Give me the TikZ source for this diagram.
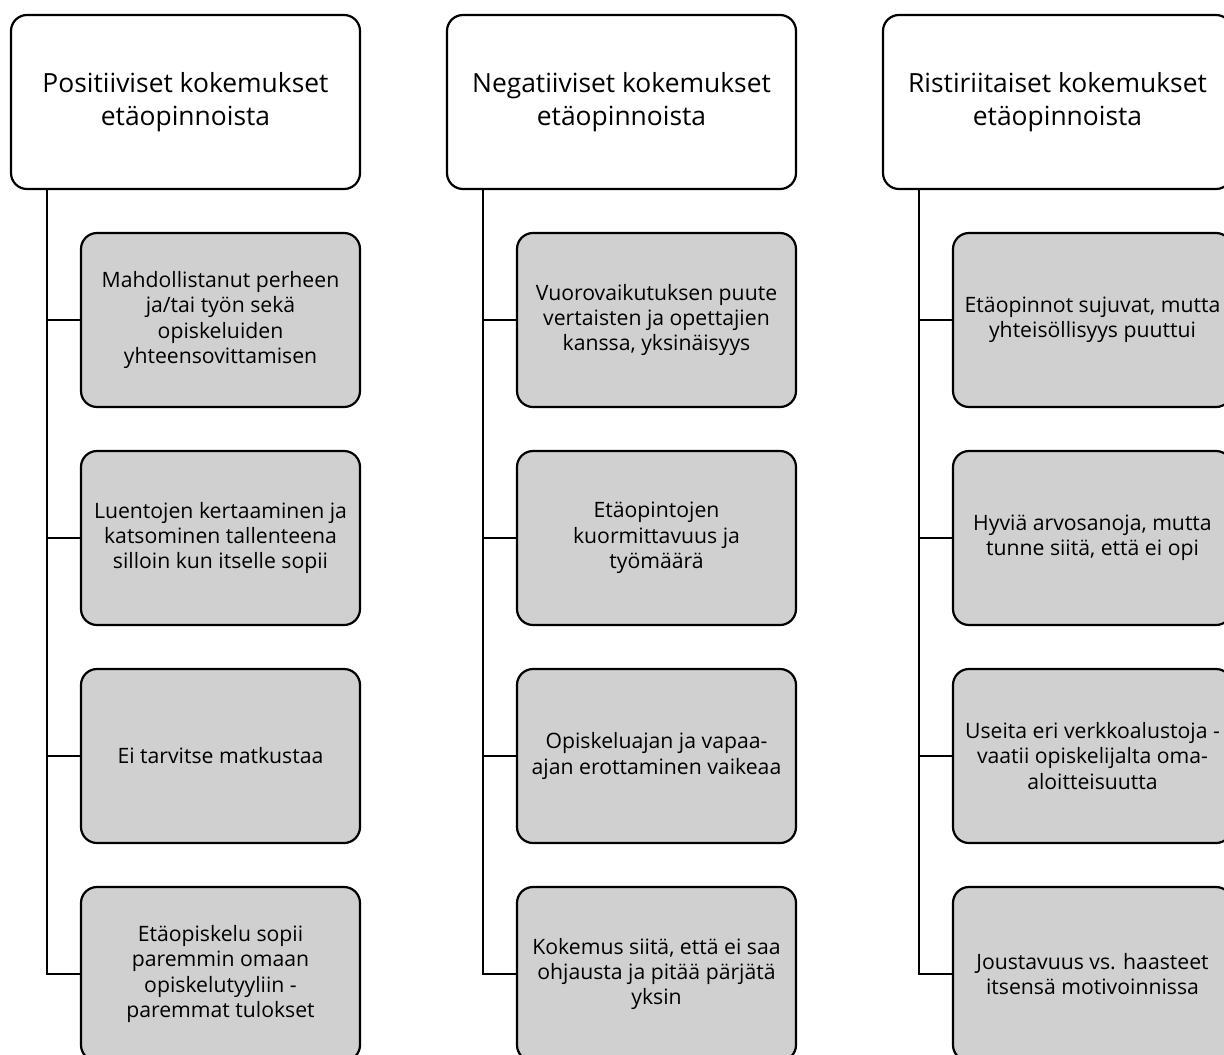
\documentclass[tikz,border=0pt]{standalone}
\usepackage{fontspec}
\setmainfont{Open Sans}
\usetikzlibrary{positioning}
\definecolor{itemgray}{RGB}{208,208,208}
\begin{document}
\begin{tikzpicture}[x=1pt,y=-1pt,inner sep=2pt,outer sep=0pt,node distance=44pt]
  \useasboundingbox(0,0)rectangle(1224,1055);
  \clip(0,0)rectangle(1224,1055);
  \tikzstyle{hd}=[draw,line width=2.2pt,rounded corners=16pt,fill=white,align=center,minimum width=349pt,minimum height=174pt,font=\fontsize{26.4}{33}\selectfont]
  \tikzstyle{it}=[draw,line width=2.2pt,rounded corners=16pt,fill=itemgray,align=center,minimum width=279pt,minimum height=174pt,font=\fontsize{21.2}{25.4}\selectfont]
  \node[hd](pos)at(185.5,102){Positiiviset kokemukset\\etäopinnoista};
  \node[hd](neg)at(621.5,102){Negatiiviset kokemukset\\etäopinnoista};
  \node[hd](ris)at(1057.5,102){Ristiriitaiset kokemukset\\etäopinnoista};
  \node[it,below left=44pt and 0pt of pos.south east](pos1){Mahdollistanut perheen\\ja/tai työn sekä\\opiskeluiden\\yhteensovittamisen};
  \node[it,below=of pos1](pos2){Luentojen kertaaminen ja\\katsominen tallenteena\\silloin kun itselle sopii};
  \node[it,below=of pos2](pos3){Ei tarvitse matkustaa};
  \node[it,below=of pos3](pos4){Etäopiskelu sopii\\paremmin omaan\\opiskelutyyliin -\\paremmat tulokset};
  \node[it,below left=44pt and 0pt of neg.south east](neg1){Vuorovaikutuksen puute\\vertaisten ja opettajien\\kanssa, yksinäisyys};
  \node[it,below=of neg1](neg2){Etäopintojen\\kuormittavuus ja\\työmäärä};
  \node[it,below=of neg2](neg3){Opiskeluajan ja vapaa-\\ajan erottaminen vaikeaa};
  \node[it,below=of neg3](neg4){Kokemus siitä, että ei saa\\ohjausta ja pitää pärjätä\\yksin};
  \node[it,below left=44pt and 0pt of ris.south east](ris1){Etäopinnot sujuvat, mutta\\yhteisöllisyys puuttui};
  \node[it,below=of ris1](ris2){Hyviä arvosanoja, mutta\\tunne siitä, että ei opi};
  \node[it,below=of ris2](ris3){Useita eri verkkoalustoja -\\vaatii opiskelijalta oma-\\aloitteisuutta};
  \node[it,below=of ris3](ris4){Joustavuus vs. haasteet\\itsensä motivoinnissa};
  \tikzstyle{e}=[draw,line width=2.8pt]
  \foreach\h in{pos,neg,ris}{\coordinate(\h t)at([xshift=36pt]\h.south west);
    \foreach\i in{1,...,4}{\draw[e](\h t)|-(\h\i.west);}}
\end{tikzpicture}
\end{document}
